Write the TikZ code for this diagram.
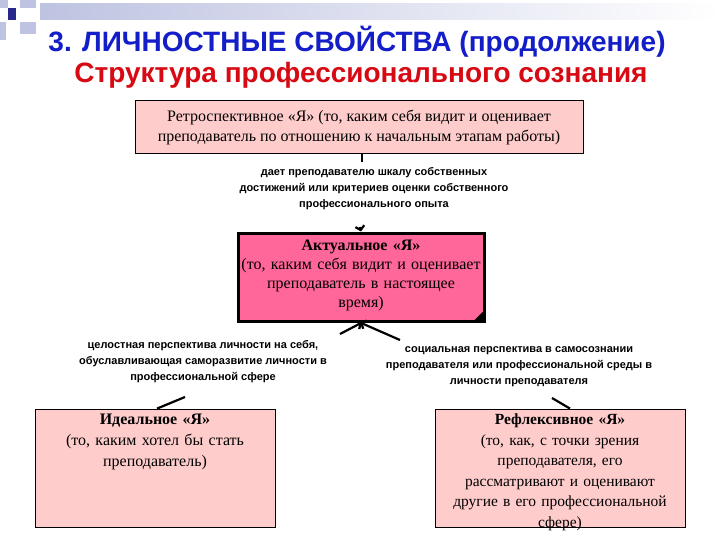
\documentclass[tikz,border=0pt]{standalone}
\usepackage{fontspec}
\setmainfont{Liberation Serif}
\newfontfamily\arialf{Liberation Sans}
\usetikzlibrary{arrows.meta}
\definecolor{ttlblue}{RGB}{20,30,200}
\definecolor{ttlred}{RGB}{215,10,20}
\definecolor{lpink}{RGB}{255,204,204}
\definecolor{hpink}{RGB}{255,102,153}
\definecolor{decob}{RGB}{40,40,140}
\definecolor{decol}{RGB}{190,195,225}
\tikzset{
  ttl/.style={font=\arialf\bfseries\fontsize{28}{32}\selectfont, inner sep=0},
  boxtxt/.style={font=\fontsize{16}{20}\selectfont, align=center, inner sep=0},
  lbl/.style={font=\arialf\bfseries\fontsize{11}{16}\selectfont, align=center, inner sep=0},
  pbox/.style={draw=black, fill=lpink, line width=0.8pt},
  conn/.style={line width=2.2pt, -{Straight Barb[length=4pt,width=9pt]}},
  seg/.style={line width=2.2pt}
}
\begin{document}
\begin{tikzpicture}[x=1pt,y=-1pt]
\useasboundingbox (0,0) rectangle (720,540);
\fill[white] (0,0) rectangle (720,540);
% decoration
\shade[left color=decol, right color=white] (40,4) rectangle (720,20);
\fill[decol] (0,0) rectangle (8,8);
\fill[decol] (20,0) rectangle (36,8);
\fill[decol] (20,22) rectangle (36,34);
\fill[decol] (0,22) rectangle (6,40);
\fill[decob] (8,8) rectangle (16,20);
% titles
\node[ttl, text=ttlblue] (t1) at (357,42) {3. ЛИЧНОСТНЫЕ СВОЙСТВА (продолжение)};
\node[ttl, text=ttlred] (t2) at (361,75) {Структура профессионального сознания};
% boxes
\node[pbox, minimum width=448, minimum height=53] (b1) at (359,127) {};
\node[boxtxt] at (b1) {Ретроспективное «Я» (то, каким себя видит и оценивает\\преподаватель по отношению к начальным этапам работы)};
\node[draw=black, line width=3pt, fill=hpink, minimum width=246, minimum height=88] (b2) at (361,277) {};
\fill[black] ([xshift=-12,yshift=1.5]b2.south east) -- ([xshift=-1.5,yshift=12]b2.south east) -- ([xshift=-1.5,yshift=1.5]b2.south east) -- cycle;
\node[boxtxt, text width=244, font=\fontsize{16}{19}\selectfont] at ([yshift=2]b2) {\textbf{Актуальное «Я»}\\(то, каким себя видит и оценивает\\преподаватель в настоящее\\время)};
\node[pbox, minimum width=240, minimum height=118] (b3) at (155,468) {};
\node[boxtxt, anchor=north, text width=236, font=\fontsize{16}{21}\selectfont] (b3t) at ([yshift=-5]b3.north) {\textbf{Идеальное «Я»}\\(то, каким хотел бы стать\\преподаватель)};
\node[pbox, minimum width=250, minimum height=118] (b4) at (560,468) {};
\node[boxtxt, anchor=north, text width=248, font=\fontsize{15.5}{20.5}\selectfont] (b4t) at ([yshift=-5]b4.north) {\textbf{Рефлексивное «Я»}\\(то, как, с точки зрения\\преподавателя, его\\рассматривают и оценивают\\другие в его профессиональной\\сфере)};
% labels
\node[lbl] (l1) at (374,189) {дает преподавателю шкалу собственных\\достижений или критериев оценки собственного\\профессионального опыта};
\node[lbl] (l2) at (203,362) {целостная перспектива личности на себя,\\обуславливающая саморазвитие личности в\\профессиональной сфере};
\node[lbl] (l3) at (519,367) {социальная перспектива в самосознании\\преподавателя или профессиональной среды в\\личности преподавателя};
% connectors
\coordinate (c1) at (362,162);
\coordinate (c2) at (360,227);
\coordinate (c3) at (340,334);
\coordinate (c4) at (400,340);
\coordinate (c5) at (185,397);
\coordinate (c6) at (552,398);
\draw[seg] (b1.south -| c1) -- (c1);
\draw[conn] (c2) -- (b2.north);
\draw[conn] (c3) -- ([xshift=1]b2.south);
\draw[conn] (c4) -- ([xshift=-1]b2.south);
\draw[seg] ([xshift=2]b3.north) -- (c5);
\draw[seg] ([xshift=10]b4.north) -- (c6);
\end{tikzpicture}
\end{document}
